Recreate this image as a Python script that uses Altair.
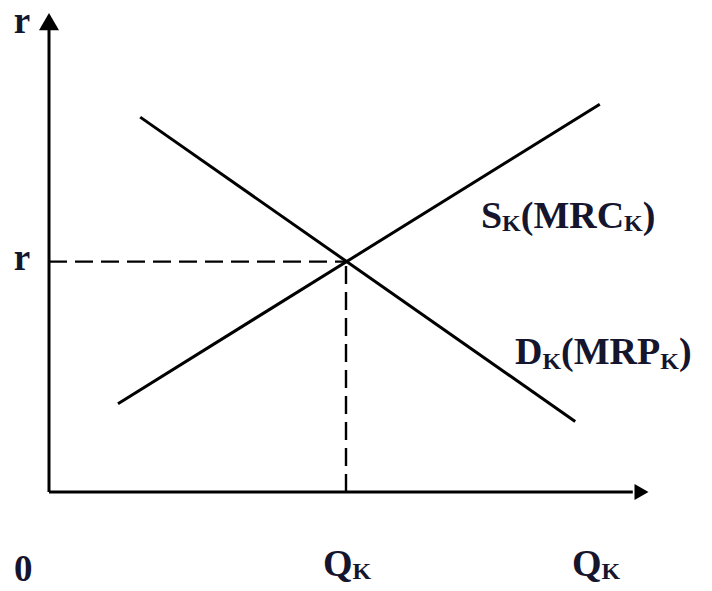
import altair as alt
import pandas as pd

# Curves (quantity Q, price r)
demand_q = [1.52, 8.77]
demand_r = [7.81, 1.47]
supply_q = [1.15, 9.18]
supply_r = [1.84, 8.08]
eq_q = 4.95
eq_r = 4.80

# Axes extents (data units)
x_axis_end = 9.73
y_axis_end = 9.67
x_arrow_q = 9.875
y_arrow_r = 9.80

# Label pieces: text, left q, baseline r, size
big, sub, lab = 38, 24, 37
label_text = ["S", "K", "(MRC", "K", ")",
              "D", "K", "(MRP", "K", ")",
              "Q", "K", "Q", "K"]
label_q = [7.20, 7.552, 7.863, 9.585, 9.897,
           7.767, 8.223, 8.535, 10.188, 10.50,
           4.567, 5.06, 8.717, 9.21]
label_r = [5.50, 5.4375, 5.50, 5.4375, 5.50,
           2.667, 2.5625, 2.667, 2.5625, 2.667,
           -1.75, -1.8125, -1.75, -1.8125]
label_size = [big, sub, big, sub, big,
              big, sub, big, sub, big,
              big, sub, big, sub]

# Axis-end labels (centered)
end_text = ["0", "r", "r"]
end_q = [-0.43, -0.45, -0.45]
end_r = [-1.86, 9.56, 4.63]

W, H = 696, 575
X_DOM = [-41 / 60, -41 / 60 + W / 60]
Y_DOM = [484 / 48 - H / 48, 484 / 48]

xs = alt.Scale(domain=X_DOM, nice=False, zero=False)
ys = alt.Scale(domain=Y_DOM, nice=False, zero=False)

curves = pd.DataFrame({
    "q": demand_q + supply_q,
    "r": demand_r + supply_r,
    "series": ["D", "D", "S", "S"],
})

axes_df = pd.DataFrame({
    "q": [0, 0], "r": [0, 0],
    "q2": [0, x_axis_end], "r2": [y_axis_end, 0],
})

dash_df = pd.DataFrame({
    "q": [0, eq_q], "r": [eq_r, 0],
    "q2": [eq_q, eq_q], "r2": [eq_r, eq_r],
})

labels = pd.DataFrame({"text": label_text, "q": label_q, "r": label_r, "size": label_size})
ends = pd.DataFrame({"text": end_text, "q": end_q, "r": end_r})

X = alt.X("q:Q", scale=xs, axis=None)
Y = alt.Y("r:Q", scale=ys, axis=None)

axes = alt.Chart(axes_df).mark_rule(color="black", strokeWidth=3).encode(
    x=X, y=Y, x2="q2:Q", y2="r2:Q",
)

y_arrow = alt.Chart(pd.DataFrame({"q": [0], "r": [y_arrow_r]})).mark_point(
    shape="triangle-up", filled=True, size=400, color="black", opacity=1
).encode(x=X, y=Y)

x_arrow = alt.Chart(pd.DataFrame({"q": [x_arrow_q], "r": [0]})).mark_point(
    shape="triangle-right", filled=True, size=260, color="black", opacity=1
).encode(x=X, y=Y)

dashes = alt.Chart(dash_df).mark_rule(color="black", strokeWidth=2.4, strokeDash=[18, 8]).encode(
    x=X, y=Y, x2="q2:Q", y2="r2:Q",
)

lines = alt.Chart(curves).mark_line(color="black", strokeWidth=3).encode(
    x=X, y=Y, detail="series:N",
)

text = alt.Chart(labels).mark_text(
    font="Liberation Serif", fontWeight="bold", align="left",
    baseline="alphabetic", color="#15152e"
).encode(
    x=X, y=Y, text="text:N",
    size=alt.Size("size:Q", scale=None),
)

end_labels = alt.Chart(ends).mark_text(
    font="Liberation Serif", fontWeight="bold", align="center",
    baseline="alphabetic", color="#15152e", fontSize=lab
).encode(x=X, y=Y, text="text:N")

chart = alt.layer(dashes, lines, axes, y_arrow, x_arrow, text, end_labels).properties(
    width=W, height=H,
    autosize=alt.AutoSizeParams(type="none"),
    padding=0,
).configure_view(stroke=None)

chart.save("out.html", embed_options={"renderer": "svg", "actions": False})
